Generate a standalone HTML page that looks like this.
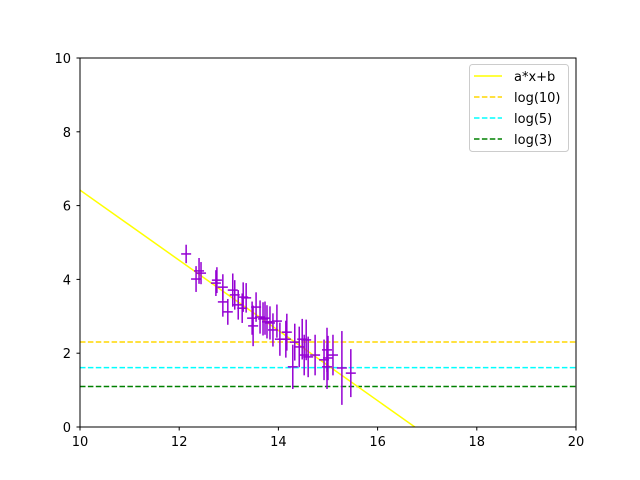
<!DOCTYPE html>
<html><head><meta charset="utf-8"><style>
html,body{margin:0;padding:0;background:#fff;width:640px;height:480px;overflow:hidden}
svg{display:block}
svg text{font-family:"DejaVu Sans","Liberation Sans",sans-serif;font-size:13px;fill:#000}
</style></head><body>
<svg id="chart" width="640" height="480">
<rect x="0" y="0" width="640" height="480" fill="#fff"/>
<g id="marks"></g>
<rect x="80" y="58" width="496" height="369" fill="none" stroke="#000" stroke-width="1"/>
<g id="axes"></g>
<g id="legend">
<rect x="469.5" y="64.5" width="99" height="87" rx="3" fill="#fff" fill-opacity="0.8" stroke="#ccc"/>
<line x1="474" y1="76" x2="502" y2="76" stroke="#ffff00" stroke-width="1.5"/>
<text x="514" y="81">a*x+b</text>
<line x1="474" y1="97" x2="502" y2="97" stroke="#ffd700" stroke-width="1.5" stroke-dasharray="5.5,2.4"/>
<text x="514" y="102">log(10)</text>
<line x1="474" y1="118" x2="502" y2="118" stroke="#00ffff" stroke-width="1.5" stroke-dasharray="5.5,2.4"/>
<text x="514" y="123">log(5)</text>
<line x1="474" y1="139" x2="502" y2="139" stroke="#008000" stroke-width="1.5" stroke-dasharray="5.5,2.4"/>
<text x="514" y="144">log(3)</text>
</g>
</svg>
<script>
const xs=[12.14,12.34,12.40,12.44,12.74,12.76,12.88,12.88,12.98,13.08,13.12,13.19,13.27,13.29,13.35,13.47,13.49,13.55,13.63,13.69,13.73,13.77,13.83,13.89,13.97,14.03,14.15,14.17,14.29,14.33,14.42,14.48,14.52,14.56,14.60,14.74,14.92,14.98,14.98,15.00,15.10,15.28,15.46];
const ys=[4.69,4.01,4.23,4.17,3.90,3.98,3.39,3.79,3.12,3.71,3.58,3.31,3.22,3.52,3.50,2.95,2.74,3.25,2.98,2.93,2.95,2.85,2.82,2.63,2.87,2.38,2.38,2.57,1.63,2.30,2.17,2.38,1.95,2.36,1.90,1.95,1.82,2.09,1.63,1.87,1.95,1.60,1.46];
const errs=[0.25,0.35,0.35,0.3,0.35,0.35,0.4,0.35,0.35,0.45,0.4,0.4,0.4,0.4,0.4,0.45,0.55,0.4,0.45,0.45,0.45,0.45,0.45,0.45,0.45,0.45,0.5,0.5,0.6,0.5,0.55,0.55,0.55,0.55,0.55,0.55,0.55,0.6,0.6,0.6,0.55,1.0,0.65];
const fitA=-0.951, fitB=15.93;
const hlines=[Math.log(10),Math.log(5),Math.log(3)];
const hcolors=["#ffd700","#00ffff","#008000"];
const xTicks=[10,12,14,16,18,20];
const yTicks=[0,2,4,6,8,10];
const X=v=>80+(v-10)*49.6, Y=v=>427-v*36.9;
const NS="http://www.w3.org/2000/svg";
const marks=document.getElementById('marks'), axes=document.getElementById('axes');
function mk(p,tag,at){const e=document.createElementNS(NS,tag);for(const k in at)e.setAttribute(k,at[k]);p.appendChild(e);return e;}
const clip=mk(marks,'clipPath',{id:'c'});mk(clip,'rect',{x:80,y:58,width:496,height:369});
const g=mk(marks,'g',{'clip-path':'url(#c)'});
hlines.forEach((h,i)=>{const l=mk(g,'line',{x1:80,x2:576,y1:Y(h),y2:Y(h),stroke:hcolors[i],'stroke-width':1.5,'stroke-dasharray':'5.5,2.4'});

});
const fl=mk(g,'line',{x1:X(10),y1:Y(fitA*10+fitB),x2:X(20),y2:Y(fitA*20+fitB),stroke:'#ffff00','stroke-width':1.5});


xs.forEach((x,i)=>{const px=X(x),py=Y(ys[i]);
const pt=mk(g,'g',{stroke:'#9400d3','stroke-width':1.5});


mk(pt,'line',{x1:px,x2:px,y1:Y(ys[i]+errs[i]),y2:Y(ys[i]-errs[i])});
mk(pt,'line',{x1:px-5,x2:px+5,y1:py,y2:py});});
xTicks.forEach(t=>{mk(axes,'line',{x1:X(t),x2:X(t),y1:427,y2:430.5,stroke:'#000'});
const tx=mk(axes,'text',{x:X(t),y:446,'text-anchor':'middle'});tx.textContent=t;

});
yTicks.forEach(t=>{mk(axes,'line',{x1:76.5,x2:80,y1:Y(t),y2:Y(t),stroke:'#000'});
const tx=mk(axes,'text',{x:71,y:Y(t)+5,'text-anchor':'end'});tx.textContent=t;

});
</script>
</body></html>
